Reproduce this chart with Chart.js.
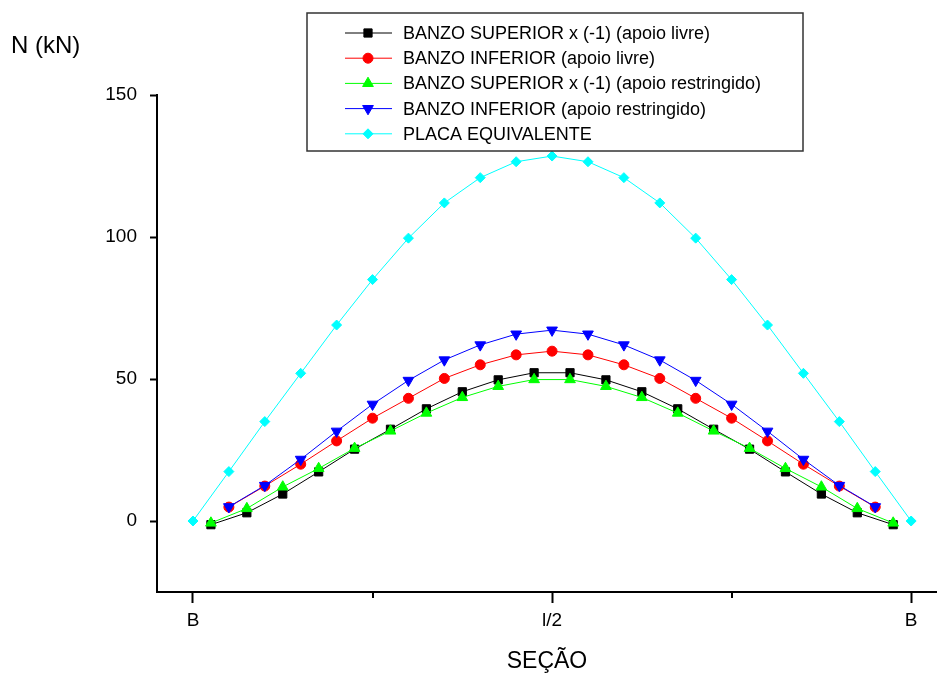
<!DOCTYPE html>
<html>
<head>
<meta charset="utf-8">
<script src="https://cdn.jsdelivr.net/npm/chart.js@4/dist/chart.umd.min.js"></script>
<style>
  html, body { margin: 0; padding: 0; background: #fff; }
  #wrap { width: 937px; height: 673px; }
</style>
</head>
<body>
<div id="wrap"><canvas id="chartEsforcos"></canvas></div>
<script>
// positions along the span (0 = B, 0.5 = l/2, 1 = B)
var xMeio = [0.025, 0.075, 0.125, 0.175, 0.225, 0.275, 0.325, 0.375, 0.425, 0.475,
             0.525, 0.575, 0.625, 0.675, 0.725, 0.775, 0.825, 0.875, 0.925, 0.975];
var xInterno = [0.05, 0.10, 0.15, 0.20, 0.25, 0.30, 0.35, 0.40, 0.45, 0.50,
                0.55, 0.60, 0.65, 0.70, 0.75, 0.80, 0.85, 0.90, 0.95];
var xTotal = [0, 0.05, 0.10, 0.15, 0.20, 0.25, 0.30, 0.35, 0.40, 0.45, 0.50,
              0.55, 0.60, 0.65, 0.70, 0.75, 0.80, 0.85, 0.90, 0.95, 1];

var superiorLivre = [-1.3, 2.9, 9.5, 17.3, 25.3, 32.3, 39.5, 45.5, 49.7, 52.2,
                     52.2, 49.7, 45.5, 39.5, 32.3, 25.3, 17.3, 9.5, 2.9, -1.3];
var inferiorLivre = [4.9, 12.3, 20.0, 28.2, 36.2, 43.2, 50.2, 55.0, 58.5, 59.8,
                     58.5, 55.0, 50.2, 43.2, 36.2, 28.2, 20.0, 12.3, 4.9];
var superiorRestr = [-0.7, 4.4, 12.0, 18.5, 25.6, 31.7, 38.0, 43.5, 47.4, 49.8,
                     49.8, 47.4, 43.5, 38.0, 31.7, 25.6, 18.5, 12.0, 4.4, -0.7];
var inferiorRestr = [5.0, 12.5, 21.7, 31.6, 41.1, 49.5, 56.7, 62.0, 65.8, 67.2,
                     65.8, 62.0, 56.7, 49.5, 41.1, 31.6, 21.7, 12.5, 5.0];
var placa = [0, 17.4, 35.0, 52.0, 69.0, 85.0, 99.6, 112.0, 120.9, 126.5, 128.5,
             126.5, 120.9, 112.0, 99.6, 85.0, 69.0, 52.0, 35.0, 17.4, 0];

var yTicks = [0, 50, 100, 150];
var xTicks = [0, 0.5, 1];
var xTickLabels = {0: 'B', 0.5: 'l/2', 1: 'B'};
var xMinor = [0.25, 0.75];

var fonte = '"Liberation Sans", Arial, sans-serif';

function pares(xs, ys) {
    var out = [];
    for (var i = 0; i < ys.length; i++) out.push({x: xs[i], y: ys[i]});
    return out;
}

var chartData = {
    datasets: [{
        label: 'BANZO SUPERIOR x (-1) (apoio livre)',
        data: pares(xMeio, superiorLivre),
        borderColor: '#000000', backgroundColor: '#000000',
        pointStyle: 'rect', pointRadius: 5.8, order: 5
        },{
        label: 'BANZO INFERIOR (apoio livre)',
        data: pares(xInterno, inferiorLivre),
        borderColor: '#ff0000', backgroundColor: '#ff0000',
        pointStyle: 'circle', pointRadius: 5, order: 4
        },{
        label: 'BANZO SUPERIOR x (-1) (apoio restringido)',
        data: pares(xMeio, superiorRestr),
        borderColor: '#00ff00', backgroundColor: '#00ff00',
        pointStyle: 'triangle', pointRadius: 6.2, order: 3
        },{
        label: 'BANZO INFERIOR (apoio restringido)',
        data: pares(xInterno, inferiorRestr),
        borderColor: '#0000ff', backgroundColor: '#0000ff',
        pointStyle: 'triangle', pointRotation: 180, pointRadius: 6.2, order: 2
        },{
        label: 'PLACA EQUIVALENTE',
        data: pares(xTotal, placa),
        borderColor: '#00ffff', backgroundColor: '#00ffff',
        pointStyle: 'rectRot', pointRadius: 5, order: 1
        }
    ]
};

chartData.datasets.forEach(function(ds) {
    ds.borderWidth = 1;
    ds.pointBorderWidth = 1;
    ds.pointBorderColor = ds.borderColor;
    ds.pointBackgroundColor = ds.backgroundColor;
    ds.fill = false;
    ds.tension = 0;
});

// axis title, minor ticks and the boxed legend
var extras = {
    id: 'extras',
    afterDraw: function(chart) {
        var ctx = chart.ctx;
        var xs = chart.scales.x;
        var area = chart.chartArea;
        ctx.save();

        ctx.fillStyle = '#000';
        ctx.font = '24px ' + fonte;
        ctx.textAlign = 'left';
        ctx.textBaseline = 'alphabetic';
        ctx.fillText('N (kN)', 11, 53);

        ctx.strokeStyle = '#000';
        ctx.lineWidth = 2;
        xMinor.forEach(function(v) {
            var px = Math.round(xs.getPixelForValue(v));
            ctx.beginPath();
            ctx.moveTo(px, area.bottom);
            ctx.lineTo(px, area.bottom + 6);
            ctx.stroke();
        });

        // legend box
        ctx.lineWidth = 1.5;
        ctx.strokeStyle = '#333';
        ctx.fillStyle = '#fff';
        ctx.fillRect(307, 13, 496, 138);
        ctx.strokeRect(307, 13, 496, 138);

        ctx.font = '18px ' + fonte;
        ctx.textBaseline = 'middle';
        chart.data.datasets.forEach(function(ds, i) {
            var y = 33 + i * 25.2;
            ctx.strokeStyle = ds.borderColor;
            ctx.lineWidth = 1;
            ctx.beginPath();
            ctx.moveTo(345, y);
            ctx.lineTo(392, y);
            ctx.stroke();
            ctx.fillStyle = ds.backgroundColor;
            Chart.helpers.drawPoint(ctx, {
                pointStyle: ds.pointStyle,
                rotation: ds.pointRotation || 0,
                radius: ds.pointRadius,
                borderWidth: 1
            }, 368, y);
            ctx.fillStyle = '#000';
            ctx.fillText(ds.label, 403, y + 1);
        });
        ctx.restore();
    }
};

var ctx = document.getElementById('chartEsforcos');
var myChartEsforcos = new Chart(ctx, {
    type: 'line',
    data: chartData,
    plugins: [extras],
    options: {
        responsive: true,
        maintainAspectRatio: false,
        animation: false,
        events: [],
        layout: {
            autoPadding: false, // otherwise point radius eats into the right edge
            padding: {top: 95, right: 0, left: 0, bottom: 0}
        },
        plugins: {
            legend: {display: false},
            tooltip: {enabled: false},
            title: {display: false}
        },
        scales: {
            x: {
                type: 'linear',
                min: -0.0501,
                max: 1.036,
                afterBuildTicks: function(scale) {
                    scale.ticks = xTicks.map(function(v) { return {value: v}; });
                },
                afterFit: function(scale) {
                    scale.height = 81;
                },
                ticks: {
                    color: '#000',
                    font: {family: fonte, size: 19},
                    padding: 6,
                    maxRotation: 0,
                    autoSkip: false,
                    callback: function(value) { return xTickLabels[value]; }
                },
                grid: {
                    drawOnChartArea: false,
                    drawTicks: true,
                    tickLength: 11,
                    tickColor: '#000',
                    tickWidth: 2
                },
                border: {color: '#000', width: 2},
                title: {
                    display: true,
                    text: 'SEÇÃO',
                    color: '#000',
                    font: {family: fonte, size: 23, lineHeight: 1},
                    padding: 0
                }
            },
            y: {
                type: 'linear',
                min: -25,
                max: 150,
                afterBuildTicks: function(scale) {
                    scale.ticks = yTicks.map(function(v) { return {value: v}; });
                },
                afterFit: function(scale) { scale.width = 157; },
                ticks: {
                    color: '#000',
                    font: {family: fonte, size: 19},
                    padding: 13
                },
                grid: {
                    drawOnChartArea: false,
                    drawTicks: true,
                    tickLength: 7,
                    tickColor: '#000',
                    tickWidth: 2
                },
                border: {color: '#000', width: 2}
            }
        }
    }
});
</script>
</body>
</html>
